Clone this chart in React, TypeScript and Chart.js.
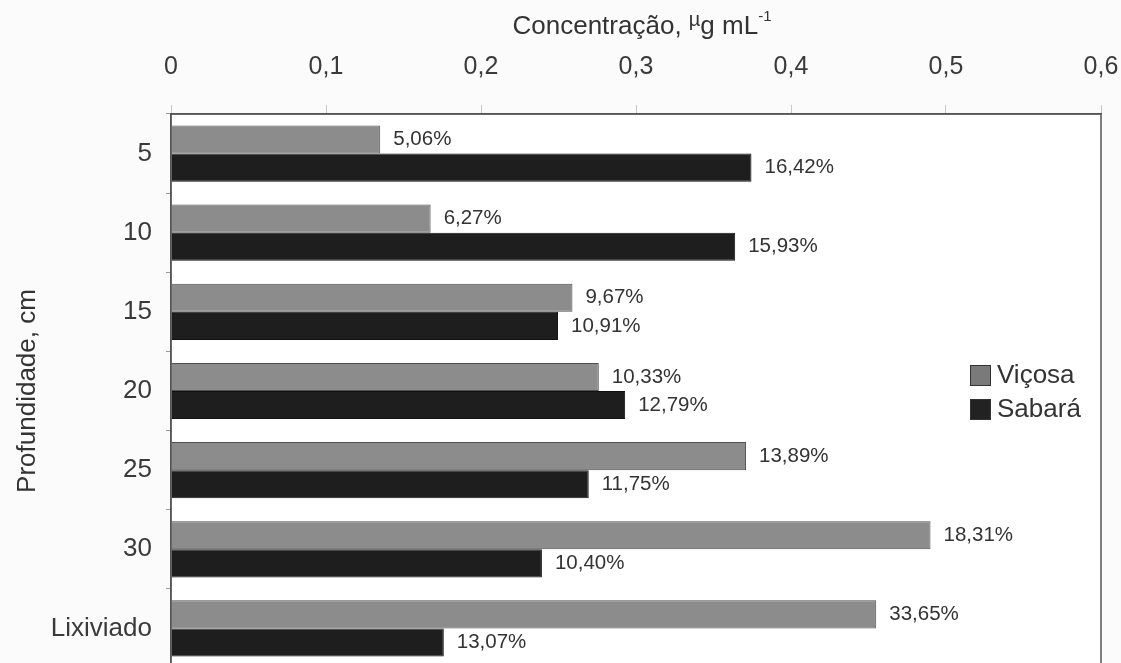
import React, { useEffect, useRef } from "react";
import { Chart, registerables } from "chart.js";

Chart.register(...registerables);

const categories = ["5", "10", "15", "20", "25", "30", "Lixiviado"];
const seriesNames = ["Viçosa", "Sabará"];
const vicosaValues = [0.135, 0.1675, 0.259, 0.276, 0.371, 0.49, 0.455];
const sabaraValues = [0.3745, 0.364, 0.2497, 0.293, 0.2695, 0.2393, 0.176];
const vicosaPct = ["5,06%", "6,27%", "9,67%", "10,33%", "13,89%", "18,31%", "33,65%"];
const sabaraPct = ["16,42%", "15,93%", "10,91%", "12,79%", "11,75%", "10,40%", "13,07%"];
const xTickLabels = ["0", "0,1", "0,2", "0,3", "0,4", "0,5", "0,6"];
const xTitleParts = ["Concentração, ", "µ", "g mL", "-1"];
const yTitle = "Profundidade, cm";

const FONT = "'Liberation Sans', Arial, Helvetica, sans-serif";
const TEXT = "#333333";
const VICOSA_FILL = "#8c8c8c";
const VICOSA_BORDER = "#505050";
const SABARA_FILL = "#1e1e1e";
const SABARA_BORDER = "#111111";

const decorPlugin = {
  id: "decor",
  beforeDraw(chart: any) {
    const { ctx, chartArea: a } = chart;
    ctx.save();
    ctx.fillStyle = "#fbfbfb";
    ctx.fillRect(0, 0, chart.width, chart.height);
    ctx.fillStyle = "#ffffff";
    ctx.fillRect(a.left, a.top, a.right - a.left, a.bottom - a.top);
    ctx.restore();
  },
  afterDraw(chart: any) {
    const { ctx, chartArea: a } = chart;
    ctx.save();
    // frame
    ctx.strokeStyle = "#555555";
    ctx.lineWidth = 1.5;
    ctx.strokeRect(a.left, a.top, a.right - a.left, a.bottom - a.top);

    // data labels
    const pctSets = [vicosaPct, sabaraPct];
    ctx.font = `20.5px ${FONT}`;
    ctx.fillStyle = TEXT;
    ctx.textBaseline = "middle";
    ctx.textAlign = "left";
    chart.data.datasets.forEach((_: any, di: number) => {
      const meta = chart.getDatasetMeta(di);
      meta.data.forEach((bar: any, i: number) => {
        ctx.fillText(pctSets[di][i], bar.x + 13, bar.y);
      });
    });

    // axis title (top) with raised µ and superscript -1
    const sizes = [26, 20, 26, 15];
    const rises = [0, 8, 0, 13];
    let total = 0;
    const widths: number[] = [];
    xTitleParts.forEach((t, i) => {
      ctx.font = `${sizes[i]}px ${FONT}`;
      const w = ctx.measureText(t).width;
      widths.push(w);
      total += w;
    });
    const cx = (a.left + a.right) / 2 + 6;
    let x = cx - total / 2;
    const baseline = 34;
    ctx.textBaseline = "alphabetic";
    xTitleParts.forEach((t, i) => {
      ctx.font = `${sizes[i]}px ${FONT}`;
      ctx.fillText(t, x, baseline - rises[i]);
      x += widths[i];
    });

    // legend inside the plot area
    const lx = a.right - 131;
    const ly = [365, 399];
    ctx.font = `26px ${FONT}`;
    ctx.textBaseline = "middle";
    seriesNames.forEach((name, i) => {
      ctx.fillStyle = i === 0 ? "#7a7a7a" : "#222222";
      ctx.fillRect(lx, ly[i], 21, 21);
      ctx.strokeStyle = "#333333";
      ctx.lineWidth = 1;
      ctx.strokeRect(lx + 0.5, ly[i] + 0.5, 20, 20);
      ctx.fillStyle = TEXT;
      ctx.fillText(name, lx + 27, ly[i] + 11);
    });
    ctx.restore();
  },
};

export default function App() {
  const ref = useRef<HTMLCanvasElement>(null);

  useEffect(() => {
    if (!ref.current) return;
    const chart = new Chart(ref.current, {
      type: "bar",
      data: {
        labels: categories,
        datasets: [
          {
            label: seriesNames[0],
            data: vicosaValues,
            backgroundColor: VICOSA_FILL,
            borderColor: VICOSA_BORDER,
            borderWidth: 1,
            categoryPercentage: 0.71,
            barPercentage: 1.0,
          },
          {
            label: seriesNames[1],
            data: sabaraValues,
            backgroundColor: SABARA_FILL,
            borderColor: SABARA_BORDER,
            borderWidth: 1,
            categoryPercentage: 0.71,
            barPercentage: 1.0,
          },
        ],
      },
      options: {
        indexAxis: "y",
        responsive: false,
        animation: false,
        events: [],
        layout: { padding: { top: 30, left: 0, right: 20, bottom: 32 } },
        plugins: {
          legend: { display: false },
          tooltip: { enabled: false },
          title: { display: false },
        },
        scales: {
          x: {
            position: "top",
            min: 0,
            max: 0.6,
            ticks: {
              stepSize: 0.1,
              padding: 0,
              color: "#3a3a3a",
              font: { family: FONT, size: 25, lineHeight: 3 },
              callback: (_v: any, i: number) => xTickLabels[i],
            },
            grid: {
              drawOnChartArea: false,
              drawTicks: true,
              tickLength: 9,
              color: "#c8c8c8",
            },
            border: { display: true, color: "#555555", width: 1.5 },
          },
          y: {
            type: "category",
            offset: true,
            afterFit: (scale: any) => {
              scale.width = 171;
            },
            ticks: {
              padding: 14,
              color: "#3a3a3a",
              font: { family: FONT, size: 26 },
            },
            grid: {
              offset: true,
              drawOnChartArea: false,
              drawTicks: true,
              tickLength: 5,
              color: "#9a9a9a",
            },
            border: { display: true, color: "#555555", width: 1.5 },
            title: {
              display: true,
              text: yTitle,
              color: TEXT,
              font: { family: FONT, size: 26 },
              padding: { top: 12, bottom: 0 },
            },
          },
        },
      },
      plugins: [decorPlugin],
    } as any);
    return () => chart.destroy();
  }, []);

  return (
    <div
      style={{
        position: "fixed",
        left: 0,
        top: 0,
        width: 1121,
        height: 663,
        overflow: "hidden",
        background: "#fbfbfb",
      }}
    >
      <canvas ref={ref} width={1121} height={700} style={{ display: "block" }} />
    </div>
  );
}
